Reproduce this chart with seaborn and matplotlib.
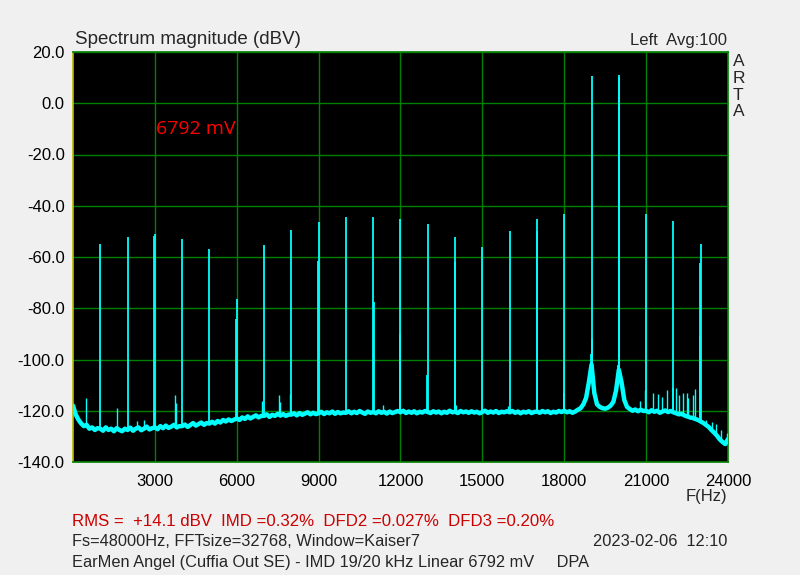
import numpy as np
import pandas as pd
import seaborn as sns
import matplotlib.pyplot as plt

# FFT bins every 100 Hz, 0 .. 24000 Hz
freq_hz = list(range(0, 24001, 100))

# noise floor, one row per kHz
floor_db = [
    -118.0, -121.5, -123.5, -125.0, -126.0, -125.5, -127.0, -126.5, -127.5, -126.8,
    -127.0, -127.8, -126.5, -127.5, -127.0, -128.0, -126.8, -127.5, -128.0, -127.0,
    -127.5, -126.6, -127.8, -127.0, -126.5, -127.6, -127.0, -126.2, -127.3, -126.8,
    -126.5, -127.2, -126.0, -126.8, -125.8, -126.7, -126.2, -125.5, -126.5, -126.0,
    -126.0, -125.4, -126.3, -125.6, -124.8, -125.8, -125.2, -124.6, -125.5, -124.8,
    -125.0, -124.3, -125.0, -124.0, -124.6, -123.6, -124.2, -123.4, -124.0, -123.5,
    -123.0, -123.6, -122.6, -123.2, -122.2, -123.0, -122.4, -121.8, -122.6, -122.0,
    -122.0, -121.4, -122.4, -121.6, -122.0, -121.2, -121.9, -121.3, -122.0, -121.5,
    -121.5, -121.0, -121.8, -120.9, -121.6, -121.1, -120.6, -121.4, -120.8, -121.3,
    -121.0, -120.4, -121.3, -120.6, -121.0, -120.3, -121.2, -120.5, -121.0, -120.7,
    -120.8, -120.2, -121.0, -120.4, -120.9, -120.1, -120.7, -121.2, -120.3, -120.8,
    -120.5, -121.0, -120.2, -120.8, -120.4, -121.1, -120.3, -120.9, -120.5, -120.1,
    -120.6, -120.0, -120.9, -120.3, -120.8, -120.2, -121.0, -120.4, -120.7, -120.1,
    -120.5, -120.9, -120.2, -120.7, -120.3, -121.0, -120.4, -120.8, -120.0, -120.6,
    -120.4, -120.9, -120.1, -120.6, -120.3, -120.8, -120.2, -120.7, -120.4, -121.0,
    -120.5, -120.0, -120.8, -120.3, -120.7, -120.1, -120.9, -120.4, -120.6, -120.2,
    -120.6, -120.1, -120.8, -120.3, -121.0, -120.4, -120.7, -120.2, -120.9, -120.5,
    -120.3, -120.8, -120.1, -120.6, -120.2, -120.9, -120.4, -120.7, -120.1, -120.5,
    -120.0, -120.6, -120.2, -120.8, -120.3, -119.6, -119.0, -117.5, -115.0, -109.0,
    -102.0, -113.0, -117.5, -118.5, -119.0, -119.2, -118.8, -118.0, -116.5, -112.0,
    -104.0, -109.0, -115.8, -118.5, -119.3, -120.0, -119.5, -120.2, -119.6, -120.1,
    -120.0, -120.6, -119.8, -120.4, -120.0, -120.8, -120.3, -119.9, -120.5, -120.1,
    -120.6, -121.0, -121.4, -121.2, -121.8, -122.2, -122.6, -122.8, -123.2, -123.6,
    -124.2, -124.8, -125.6, -126.4, -127.6, -128.6, -129.8, -131.2, -132.2, -133.0,
    -131.0,
]

# IMD products, the two test tones and their neighbouring bins
peak_hz = [1000, 2000, 2985, 3000, 4000, 5000, 5985, 6000, 7000, 8000,
           8985, 9000, 10000, 11000, 11015, 11985, 12000, 12985, 13000,
           14000, 14015, 15000, 16000, 17000, 17015, 17985, 18000,
           18985, 19000, 19015, 19985, 20000, 20015, 21000, 21985, 22000,
           22970, 22985, 23000]
peak_db = [-54.8, -52.0, -51.7, -50.9, -52.8, -56.7, -84.0, -76.4, -55.2, -49.3,
           -61.5, -46.2, -44.2, -44.5, -77.5, -90.0, -45.0, -106.0, -47.2,
           -52.0, -62.0, -56.2, -50.0, -45.3, -50.0, -113.0, -43.3,
           -98.0, 10.5, -92.0, -102.0, 10.9, 10.2, -43.3, -111.0, -46.0,
           -91.0, -62.5, -55.0]

# small spurs sitting on the floor
spur_hz = [30, 480, 1600, 2350, 2600, 3740, 3780, 6920, 7560, 7600, 7950,
           11350, 14050, 15940, 20770, 20950, 21250, 21440, 21600, 21760,
           22110, 22200, 22350, 22480, 22540, 22700, 22780, 23210, 23400,
           23560, 23740, 23950]
spur_db = [-117.8, -115.0, -119.0, -124.0, -123.5, -114.0, -117.0, -116.0,
           -114.0, -116.6, -113.6, -117.7, -117.7, -118.0, -116.0, -112.0,
           -113.0, -113.5, -114.5, -112.0, -111.0, -113.7, -113.0, -113.0,
           -115.0, -114.0, -111.7, -123.5, -124.4, -125.0, -127.5, -128.7]

y_ticks = [20, 0, -20, -40, -60, -80, -100, -120, -140]
x_ticks = [3000, 6000, 9000, 12000, 15000, 18000, 21000, 24000]

sns.set_style("dark")
plt.rcParams['font.family'] = ['Liberation Sans', 'DejaVu Sans']

fig = plt.figure(figsize=(8, 5.75), dpi=100, facecolor='#f0f0f0')
ax = fig.add_axes([73 / 800, 1 - 462 / 575, 655 / 800, 410 / 575])
ax.set_facecolor('black')

df = pd.DataFrame({"hz": freq_hz, "db": floor_db})
sns.lineplot(data=df, x="hz", y="db", color='#00ffff', lw=3.2, ax=ax, zorder=3)


def floor_at(f):
    return floor_db[int(round(f / 100))]


ax.vlines(peak_hz, [floor_at(f) for f in peak_hz], peak_db,
          color='#00ffff', lw=1.3, zorder=3)
ax.vlines(spur_hz, [floor_at(f) for f in spur_hz], spur_db,
          color='#00ffff', lw=1.0, zorder=3)

ax.set_xlim(0, 24000)
ax.set_ylim(-140, 20)
ax.set_xticks(x_ticks)
ax.set_xticklabels([str(v) for v in x_ticks])
ax.set_yticks(y_ticks)
ax.set_yticklabels([f"{v:.1f}" for v in y_ticks])
ax.grid(True, color='#008000', lw=1.0, zorder=1)
ax.set_axisbelow(True)
ax.tick_params(length=0, labelsize=12, colors='black')
ax.tick_params(axis='y', pad=6)
ax.tick_params(axis='x', pad=9)
ax.set_xlabel("")
ax.set_ylabel("")
for side in ["top", "right", "bottom"]:
    ax.spines[side].set_color('#008000')
    ax.spines[side].set_linewidth(1.2)
    ax.spines[side].set_visible(True)
ax.spines["left"].set_color('#b8b800')
ax.spines["left"].set_linewidth(1.2)
ax.spines["left"].set_visible(True)

ax.text(0.127, 0.812, "6792 mV", transform=ax.transAxes, color='#ff0000',
        fontsize=14, family=['Open Sans', 'DejaVu Sans'], va='center', ha='left')

fig.text(75 / 800, 1 - 39 / 575, "Spectrum magnitude (dBV)", fontsize=13.5,
         ha='left', va='center')
fig.text(727 / 800, 1 - 40 / 575, "Left  Avg:100", fontsize=12,
         ha='right', va='center')
fig.text(733 / 800, 1 - 54 / 575, "A\nR\nT\nA", fontsize=12.5, ha='left',
         va='top', linespacing=1.15)
fig.text(706 / 800, 1 - 497 / 575, "F(Hz)", fontsize=12, ha='center',
         va='center')

fig.text(72 / 800, 1 - 522 / 575,
         "RMS =  +14.1 dBV  IMD =0.32%  DFD2 =0.027%  DFD3 =0.20%",
         fontsize=12.1, color='#cc0000', ha='left', va='center')
fig.text(72 / 800, 1 - 542 / 575,
         "Fs=48000Hz, FFTsize=32768, Window=Kaiser7",
         fontsize=11.8, ha='left', va='center')
fig.text(593 / 800, 1 - 542 / 575, "2023-02-06  12:10",
         fontsize=11.8, ha='left', va='center')
fig.text(72 / 800, 1 - 562 / 575,
         "EarMen Angel (Cuffia Out SE) - IMD 19/20 kHz Linear 6792 mV     DPA",
         fontsize=11.8, ha='left', va='center')

fig.savefig("out.png", dpi=100, facecolor=fig.get_facecolor())
